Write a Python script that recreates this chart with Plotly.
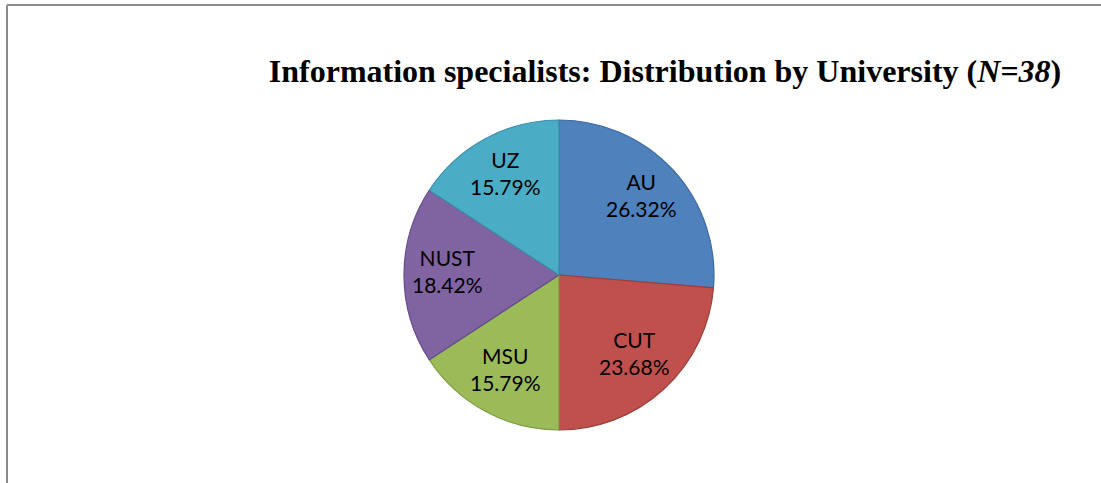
import math
import plotly.graph_objects as go

universities = ["AU", "CUT", "MSU", "NUST", "UZ"]
counts = [10, 9, 6, 7, 6]
fill_colors = ["#4F81BD", "#C0504D", "#9BBB59", "#8064A2", "#4BACC6"]
edge_colors = ["#3D6A9E", "#9E3D3A", "#7C9A43", "#65498A", "#3A90A8"]

W, H = 1101, 483
cx, cy, r = 559, 275, 155
label_radius_frac = 0.72

fig = go.Figure(go.Pie(
    labels=universities,
    values=counts,
    sort=False,
    direction="clockwise",
    rotation=0,
    marker=dict(colors=fill_colors, line=dict(color=edge_colors, width=1.2)),
    textinfo="none",
    hoverinfo="label+percent",
    showlegend=False,
    domain=dict(x=[(cx - r) / W, (cx + r) / W], y=[1 - (cy + r) / H, 1 - (cy - r) / H]),
))

# data labels placed along each slice's mid-angle (Excel-like positioning)
total = sum(counts)
annotations = []
cum = 0
for name, v in zip(universities, counts):
    mid = (cum + v / 2) / total * 2 * math.pi
    cum += v
    px = cx + label_radius_frac * r * math.sin(mid)
    py = cy - label_radius_frac * r * math.cos(mid)
    annotations.append(dict(
        x=px / W, y=1 - py / H, xref="paper", yref="paper",
        text=f"{name}<br>{v / total * 100:.2f}%", showarrow=False,
        xanchor="center", yanchor="middle", yshift=4,
        font=dict(family="Lato, Noto Sans, sans-serif", size=21, color="black"),
    ))

fig.update_layout(
    width=W, height=H,
    margin=dict(l=0, r=0, t=0, b=0),
    paper_bgcolor="white",
    plot_bgcolor="white",
    title=dict(
        text="Information specialists: Distribution by University (<i>N=38</i>)",
        x=665 / W, y=1 - 71 / H, xanchor="center", yanchor="middle",
        font=dict(family="Liberation Serif, Times New Roman, serif", size=32, color="black", weight="bold"),
    ),
    annotations=annotations,
    shapes=[
        dict(type="line", xref="paper", yref="paper", x0=7 / W, x1=1.0, y0=1 - 5 / H, y1=1 - 5 / H,
             line=dict(color="#8C8C8C", width=2)),
        dict(type="line", xref="paper", yref="paper", x0=7 / W, x1=7 / W, y0=0, y1=1 - 5 / H,
             line=dict(color="#8C8C8C", width=2)),
    ],
)

fig.write_html("out.html", config={"displayModeBar": False},
               post_script="document.body.style.margin='0';document.body.style.overflow='hidden';")
